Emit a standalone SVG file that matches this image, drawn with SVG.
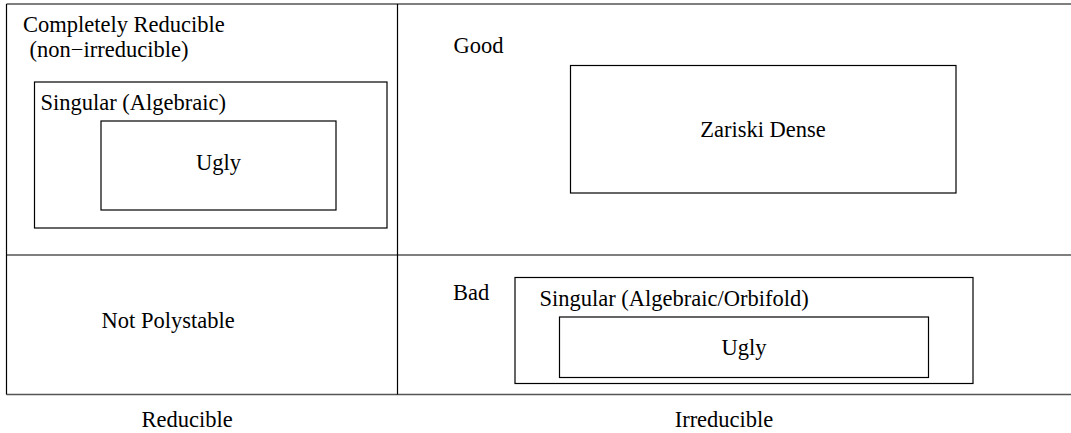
<svg xmlns="http://www.w3.org/2000/svg" width="1071" height="433" viewBox="0 0 1071 433">
<style>
text{font-family:'Liberation Serif','Times New Roman',Tinos,'DejaVu Serif','Noto Serif',serif;font-size:22.5px;fill:#000}
.c{text-anchor:middle}
rect{fill:none;stroke:#000;stroke-width:1.2}
.g{stroke:#000;stroke-width:1.2;fill:none}
.e{stroke:#555;stroke-width:1.4;fill:none}
</style>
<rect x="0" y="0" width="1071" height="433" style="fill:#fff;stroke:none"/>
<g id="grid">
<line class="e" x1="6.5" y1="4" x2="1071" y2="4"/>
<line class="e" x1="6.5" y1="394.5" x2="1071" y2="394.5"/>
<line class="g" x1="6.5" y1="4" x2="6.5" y2="394.5"/>
<line class="g" x1="397.5" y1="4" x2="397.5" y2="394.5"/>
<line class="g" x1="6.5" y1="255" x2="1071" y2="255"/>
</g>
<g id="completely-reducible">
<text x="23" y="32">Completely Reducible</text>
<text x="29.5" y="57">(non−irreducible)</text>
</g>
<g id="singular-algebraic">
<rect x="34.5" y="82" width="352.5" height="146"/>
<text x="40.5" y="110">Singular (Algebraic)</text>
</g>
<g id="ugly-top">
<rect x="101" y="121" width="235" height="89"/>
<text class="c" x="218.5" y="170">Ugly</text>
</g>
<g id="good">
<text x="453.5" y="53">Good</text>
</g>
<g id="zariski-dense">
<rect x="570.5" y="65.5" width="385.5" height="127.5"/>
<text class="c" x="763" y="137">Zariski Dense</text>
</g>
<g id="not-polystable">
<text x="101.5" y="328">Not Polystable</text>
</g>
<g id="bad">
<text x="453" y="300">Bad</text>
</g>
<g id="singular-orbifold">
<rect x="515" y="277.5" width="458" height="106"/>
<text x="539.5" y="305.5">Singular (Algebraic/Orbifold)</text>
</g>
<g id="ugly-bottom">
<rect x="559.5" y="317" width="369" height="60.5"/>
<text class="c" x="744" y="355">Ugly</text>
</g>
<g id="reducible">
<text x="141.5" y="426.5">Reducible</text>
</g>
<g id="irreducible">
<text class="c" x="724" y="426.5">Irreducible</text>
</g>
<g id="connectors"/>
</svg>
